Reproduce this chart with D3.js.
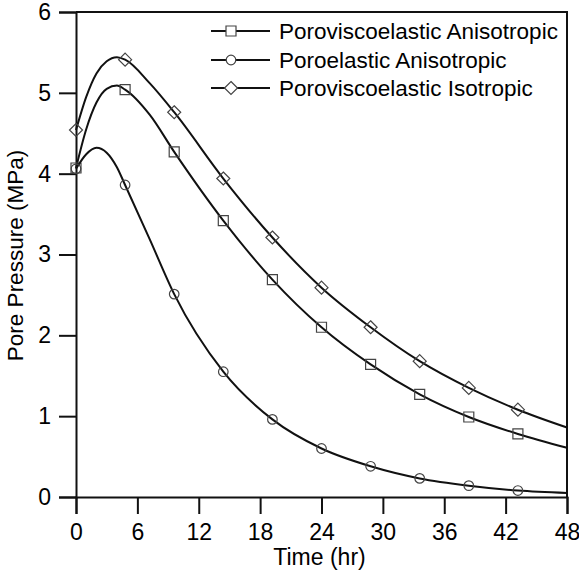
<!DOCTYPE html>
<html>
<head>
<meta charset="utf-8">
<script src="https://cdn.jsdelivr.net/npm/d3@7"></script>
<style>
  html, body { margin: 0; padding: 0; background: #fff; }
  svg text { font-family: "Liberation Sans", Arial, sans-serif; fill: #000; }
</style>
</head>
<body>
<svg id="chart" width="579" height="572"></svg>
<script>
// ---- data ----
const curveTimes = [0, 1, 2, 3, 4, 4.8, 7.2, 9.6, 14.4, 19.2, 24, 28.8, 33.6, 38.4, 43.2, 48];
const pvAniso   = [4.07, 4.55, 4.88, 5.05, 5.09, 5.04, 4.73, 4.27, 3.42, 2.69, 2.10, 1.64, 1.27, 0.99, 0.78, 0.61];
const peAniso   = [4.06, 4.24, 4.32, 4.26, 4.08, 3.86, 3.19, 2.51, 1.55, 0.96, 0.60, 0.38, 0.23, 0.14, 0.08, 0.05];
const pvIso     = [4.54, 4.95, 5.24, 5.39, 5.44, 5.41, 5.12, 4.76, 3.94, 3.21, 2.59, 2.10, 1.68, 1.35, 1.08, 0.86];
const markerTimes = [0, 4.8, 9.6, 14.4, 19.2, 24, 28.8, 33.6, 38.4, 43.2];
const seriesNames = ["Poroviscoelastic Anisotropic", "Poroelastic Anisotropic", "Poroviscoelastic Isotropic"];
const seriesSymbols = ["square", "circle", "diamond"];
const xTicks = [0, 6, 12, 18, 24, 30, 36, 42, 48];
const yTicks = [0, 1, 2, 3, 4, 5, 6];
const xLabel = "Time (hr)";
const yLabel = "Pore Pressure (MPa)";

const series = [pvAniso, peAniso, pvIso].map((vals, i) => ({
  name: seriesNames[i], symbol: seriesSymbols[i],
  points: curveTimes.map((t, j) => ({ t, v: vals[j] }))
}));

// ---- layout ----
const svg = d3.select("#chart");
const L = 76, R = 567, T = 12, B = 497;
const x = d3.scaleLinear().domain([0, 48]).range([L, R]);
const y = d3.scaleLinear().domain([0, 6]).range([B, T]);
const FS = 23;
const LFS = 22.5;
const stroke = "#111";

// frame (top and right)
svg.append("path")
  .attr("d", `M${L},${T}H${R}V${B}`)
  .attr("fill", "none").attr("stroke", stroke).attr("stroke-width", 2);

// x axis
const xAxis = svg.append("g").attr("transform", `translate(0,${B})`);
xAxis.call(d3.axisBottom(x).tickValues(d3.range(3, 48, 6)).tickSize(9).tickFormat(""));
xAxis.call(d3.axisBottom(x).tickValues(xTicks).tickSize(17).tickPadding(10).tickFormat(d3.format("d")));
xAxis.selectAll(".domain").attr("stroke", stroke).attr("stroke-width", 2);
xAxis.selectAll(".tick line").attr("stroke", stroke).attr("stroke-width", 2);
xAxis.selectAll("text").style("font-size", FS + "px").attr("font-family", "Liberation Sans, Arial, sans-serif").attr("fill", "#000");

// y axis
const yAxis = svg.append("g").attr("transform", `translate(${L},0)`);
yAxis.call(d3.axisLeft(y).tickValues(d3.range(0.5, 6, 1)).tickSize(9).tickFormat(""));
yAxis.call(d3.axisLeft(y).tickValues(yTicks).tickSize(17).tickPadding(8).tickFormat(d3.format("d")));
yAxis.selectAll(".domain").attr("stroke", stroke).attr("stroke-width", 2);
yAxis.selectAll(".tick line").attr("stroke", stroke).attr("stroke-width", 2);
yAxis.selectAll("text").style("font-size", FS + "px").attr("font-family", "Liberation Sans, Arial, sans-serif").attr("fill", "#000");

// axis titles
svg.append("text").attr("x", (L + R) / 2 - 2).attr("y", 565)
  .attr("text-anchor", "middle").style("font-size", FS + "px").text(xLabel);
svg.append("text").attr("transform", `translate(23,${(T + B) / 2 + 1}) rotate(-90)`)
  .attr("text-anchor", "middle").style("font-size", LFS + "px").text(yLabel);

// curves
const line = d3.line().x(d => x(d.t)).y(d => y(d.v)).curve(d3.curveMonotoneX);
function symbolPath(s) {
  if (s === "square") return "M-5,-5H5V5H-5Z";
  if (s === "diamond") return "M0,-6.5L6.5,0L0,6.5L-6.5,0Z";
  return d3.symbol().type(d3.symbolCircle).size(72)();
}

series.forEach(s => {
  svg.append("path").datum(s.points)
    .attr("d", line).attr("fill", "none").attr("stroke", stroke).attr("stroke-width", 2);
  svg.append("g").selectAll("path")
    .data(s.points.filter(p => markerTimes.includes(p.t)))
    .join("path")
    .attr("transform", d => `translate(${x(d.t)},${y(d.v)})`)
    .attr("d", symbolPath(s.symbol))
    .attr("fill", "none").attr("stroke", "#444").attr("stroke-width", 1.2);
});

// legend
const legRows = [31, 60, 88];
series.forEach((s, i) => {
  const g = svg.append("g").attr("transform", `translate(0,${legRows[i]})`);
  g.append("line").attr("x1", 211).attr("x2", 270).attr("y1", 0).attr("y2", 0)
    .attr("stroke", stroke).attr("stroke-width", 2);
  g.append("path").attr("transform", "translate(231,0)").attr("d", symbolPath(s.symbol))
    .attr("fill", "#fff").attr("stroke", "#444").attr("stroke-width", 1.2);
  g.append("text").attr("x", 279).attr("y", 8).style("font-size", LFS + "px").text(s.name);
});
</script>
</body>
</html>
